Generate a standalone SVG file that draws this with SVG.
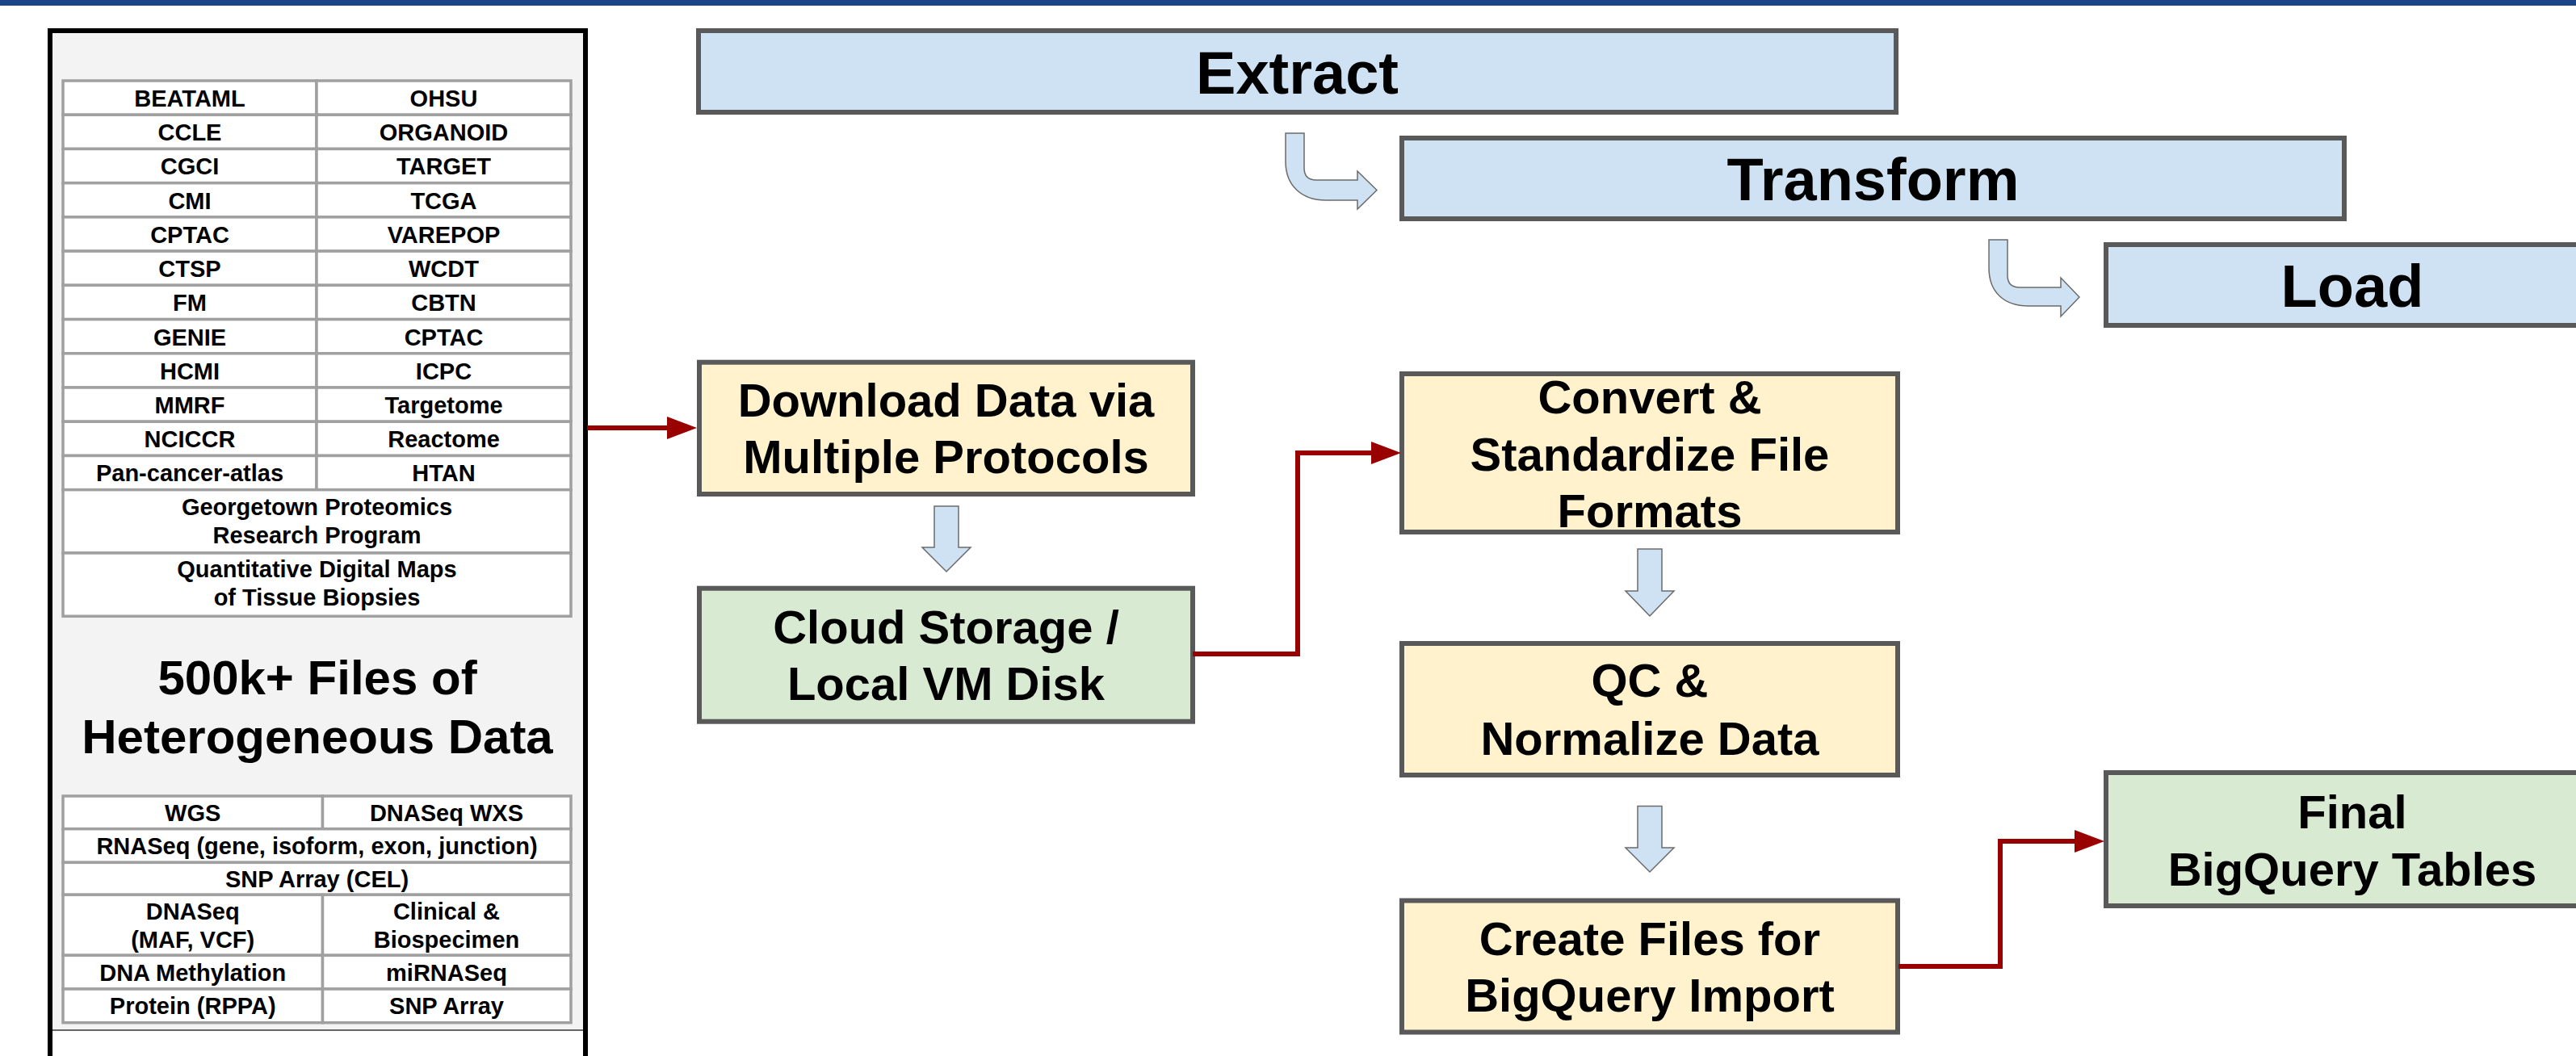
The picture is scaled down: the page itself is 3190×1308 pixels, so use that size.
<svg xmlns="http://www.w3.org/2000/svg" width="3190" height="1308" viewBox="0 0 3190 1308">
<defs>
<style>
text{font-family:"Liberation Sans",Arial,sans-serif;font-weight:bold;fill:#000;text-anchor:middle}
.cell{fill:#fff;stroke:#a0a0a0;stroke-width:3.5}
.t{font-size:29px}
.box{stroke:#595959;stroke-width:6}
.blue{fill:#cfe2f3}
.yellow{fill:#fff2cc}
.green{fill:#d9ead3}
.bt{font-size:58px}
.phase{font-size:74px}
.flow{fill:#cfe2f3;stroke:#6b6b6b;stroke-width:1.5}
.conn{fill:none;stroke:#990000;stroke-width:6}
</style>
<marker id="ah" markerUnits="userSpaceOnUse" markerWidth="38" markerHeight="28" refX="0" refY="14" orient="auto">
<path d="M0,0 L37,14 L0,28 Z" fill="#990000"/>
</marker>
</defs>
<rect width="3190" height="1308" fill="#fff"/>
<rect x="0" y="0" width="3190" height="7" fill="#1c4587"/>

<g id="sources-panel">
<rect x="62" y="38" width="663" height="1300" fill="#fff" stroke="#000" stroke-width="6"/>
<rect x="65" y="41" width="657" height="1235" fill="#f3f3f3"/>
<line x1="65" y1="1276" x2="722" y2="1276" stroke="#666" stroke-width="2"/>
<g id="programs-table">
<rect class="cell" x="78" y="100" width="314" height="42.22"/><rect class="cell" x="392" y="100" width="315" height="42.22"/>
<rect class="cell" x="78" y="142.22" width="314" height="42.22"/><rect class="cell" x="392" y="142.22" width="315" height="42.22"/>
<rect class="cell" x="78" y="184.44" width="314" height="42.22"/><rect class="cell" x="392" y="184.44" width="315" height="42.22"/>
<rect class="cell" x="78" y="226.67" width="314" height="42.22"/><rect class="cell" x="392" y="226.67" width="315" height="42.22"/>
<rect class="cell" x="78" y="268.89" width="314" height="42.22"/><rect class="cell" x="392" y="268.89" width="315" height="42.22"/>
<rect class="cell" x="78" y="311.11" width="314" height="42.22"/><rect class="cell" x="392" y="311.11" width="315" height="42.22"/>
<rect class="cell" x="78" y="353.33" width="314" height="42.22"/><rect class="cell" x="392" y="353.33" width="315" height="42.22"/>
<rect class="cell" x="78" y="395.56" width="314" height="42.22"/><rect class="cell" x="392" y="395.56" width="315" height="42.22"/>
<rect class="cell" x="78" y="437.78" width="314" height="42.22"/><rect class="cell" x="392" y="437.78" width="315" height="42.22"/>
<rect class="cell" x="78" y="480" width="314" height="42.22"/><rect class="cell" x="392" y="480" width="315" height="42.22"/>
<rect class="cell" x="78" y="522.22" width="314" height="42.22"/><rect class="cell" x="392" y="522.22" width="315" height="42.22"/>
<rect class="cell" x="78" y="564.44" width="314" height="42.22"/><rect class="cell" x="392" y="564.44" width="315" height="42.22"/>
<rect class="cell" x="78" y="606.67" width="629" height="78.3"/>
<rect class="cell" x="78" y="684.97" width="629" height="78.3"/>
<text class="t" x="235" y="132">BEATAML</text><text class="t" x="549.5" y="132">OHSU</text>
<text class="t" x="235" y="174.2">CCLE</text><text class="t" x="549.5" y="174.2">ORGANOID</text>
<text class="t" x="235" y="216.4">CGCI</text><text class="t" x="549.5" y="216.4">TARGET</text>
<text class="t" x="235" y="258.7">CMI</text><text class="t" x="549.5" y="258.7">TCGA</text>
<text class="t" x="235" y="300.9">CPTAC</text><text class="t" x="549.5" y="300.9">VAREPOP</text>
<text class="t" x="235" y="343.1">CTSP</text><text class="t" x="549.5" y="343.1">WCDT</text>
<text class="t" x="235" y="385.3">FM</text><text class="t" x="549.5" y="385.3">CBTN</text>
<text class="t" x="235" y="427.6">GENIE</text><text class="t" x="549.5" y="427.6">CPTAC</text>
<text class="t" x="235" y="469.8">HCMI</text><text class="t" x="549.5" y="469.8">ICPC</text>
<text class="t" x="235" y="512">MMRF</text><text class="t" x="549.5" y="512">Targetome</text>
<text class="t" x="235" y="554.2">NCICCR</text><text class="t" x="549.5" y="554.2">Reactome</text>
<text class="t" x="235" y="596.4">Pan-cancer-atlas</text><text class="t" x="549.5" y="596.4">HTAN</text>
<text class="t" x="392.5" y="637.5">Georgetown Proteomics</text>
<text class="t" x="392.5" y="672.5">Research Program</text>
<text class="t" x="392.5" y="714.5">Quantitative Digital Maps</text>
<text class="t" x="392.5" y="750">of Tissue Biopsies</text>
</g>
<text x="393" y="860" font-size="60">500k+ Files of</text>
<text x="393" y="933" font-size="60">Heterogeneous Data</text>
<g id="datatypes-table">
<rect class="cell" x="78" y="986" width="321.5" height="40.7"/><rect class="cell" x="399.5" y="986" width="307.5" height="40.7"/>
<rect class="cell" x="78" y="1026.7" width="629" height="41.6"/>
<rect class="cell" x="78" y="1068.3" width="629" height="40"/>
<rect class="cell" x="78" y="1108.3" width="321.5" height="75"/><rect class="cell" x="399.5" y="1108.3" width="307.5" height="75"/>
<rect class="cell" x="78" y="1183.3" width="321.5" height="41.7"/><rect class="cell" x="399.5" y="1183.3" width="307.5" height="41.7"/>
<rect class="cell" x="78" y="1225" width="321.5" height="41.7"/><rect class="cell" x="399.5" y="1225" width="307.5" height="41.7"/>
<text class="t" x="238.7" y="1016.8">WGS</text><text class="t" x="553" y="1016.8">DNASeq WXS</text>
<text class="t" x="392.5" y="1058">RNASeq (gene, isoform, exon, junction)</text>
<text class="t" x="392.5" y="1098.8">SNP Array (CEL)</text>
<text class="t" x="238.7" y="1138.5">DNASeq</text><text class="t" x="238.7" y="1173.5">(MAF, VCF)</text>
<text class="t" x="553" y="1138.5">Clinical &amp;</text><text class="t" x="553" y="1173.5">Biospecimen</text>
<text class="t" x="238.7" y="1214.7">DNA Methylation</text><text class="t" x="553" y="1214.7">miRNASeq</text>
<text class="t" x="238.7" y="1256.3">Protein (RPPA)</text><text class="t" x="553" y="1256.3">SNP Array</text>
</g>
</g>

<g id="extract">
<rect class="box blue" x="865" y="38" width="1483" height="101"/>
<text class="phase" x="1606.5" y="116">Extract</text>
</g>
<g id="transform">
<rect class="box blue" x="1736" y="171" width="1167" height="100"/>
<text class="phase" x="2319.5" y="248">Transform</text>
</g>
<g id="load">
<rect class="box blue" x="2608" y="303" width="620" height="100"/>
<text class="phase" x="2913" y="380">Load</text>
</g>

<g id="download">
<rect class="box yellow" x="866" y="448.7" width="611" height="163.3"/>
<text class="bt" x="1171.5" y="516">Download Data via</text>
<text class="bt" x="1171.5" y="586">Multiple Protocols</text>
</g>
<g id="cloud-storage">
<rect class="box green" x="866" y="728.7" width="611" height="165"/>
<text class="bt" x="1171.5" y="797">Cloud Storage /</text>
<text class="bt" x="1171.5" y="867">Local VM Disk</text>
</g>
<g id="convert">
<rect class="box yellow" x="1736" y="463" width="614" height="196"/>
<text class="bt" x="2043" y="512">Convert &amp;</text>
<text class="bt" x="2043" y="583">Standardize File</text>
<text class="bt" x="2043" y="653">Formats</text>
</g>
<g id="qc">
<rect class="box yellow" x="1736" y="797" width="614" height="163"/>
<text class="bt" x="2043" y="863">QC &amp;</text>
<text class="bt" x="2043" y="935">Normalize Data</text>
</g>
<g id="create-files">
<rect class="box yellow" x="1736" y="1115.5" width="614" height="163"/>
<text class="bt" x="2043" y="1182.5">Create Files for</text>
<text class="bt" x="2043" y="1253">BigQuery Import</text>
</g>
<g id="final-tables">
<rect class="box green" x="2608" y="957" width="620" height="165"/>
<text class="bt" x="2913" y="1025.5">Final</text>
<text class="bt" x="2913" y="1097">BigQuery Tables</text>
</g>

<g id="connectors">
<path class="flow" d="M1592,165 H1615 V208 Q1615,223 1630,223 H1681 V212 L1705,235.5 L1681,259 V248 H1642 C1612,248 1592,230 1592,200 Z"/>
<path class="flow" d="M2463,297 H2486 V341 Q2486,356 2501,356 H2552 V344 L2575,368 L2552,392 V379 H2512 C2482,379 2463,362 2463,332 Z"/>
<path class="flow" d="M1157,627 H1187 V678 H1202 L1172,708 L1142,678 H1157 Z"/>
<path class="flow" d="M2028,680 H2058 V732 H2073 L2043,763 L2013,732 H2028 Z"/>
<path class="flow" d="M2028,998.5 H2058 V1050 H2073 L2043,1080 L2013,1050 H2028 Z"/>
<path class="conn" d="M727,530 H826" marker-end="url(#ah)"/>
<path class="conn" d="M1477,810 H1607 V561 H1698" marker-end="url(#ah)"/>
<path class="conn" d="M2351,1197 H2477 V1042 H2569" marker-end="url(#ah)"/>
</g>
</svg>
